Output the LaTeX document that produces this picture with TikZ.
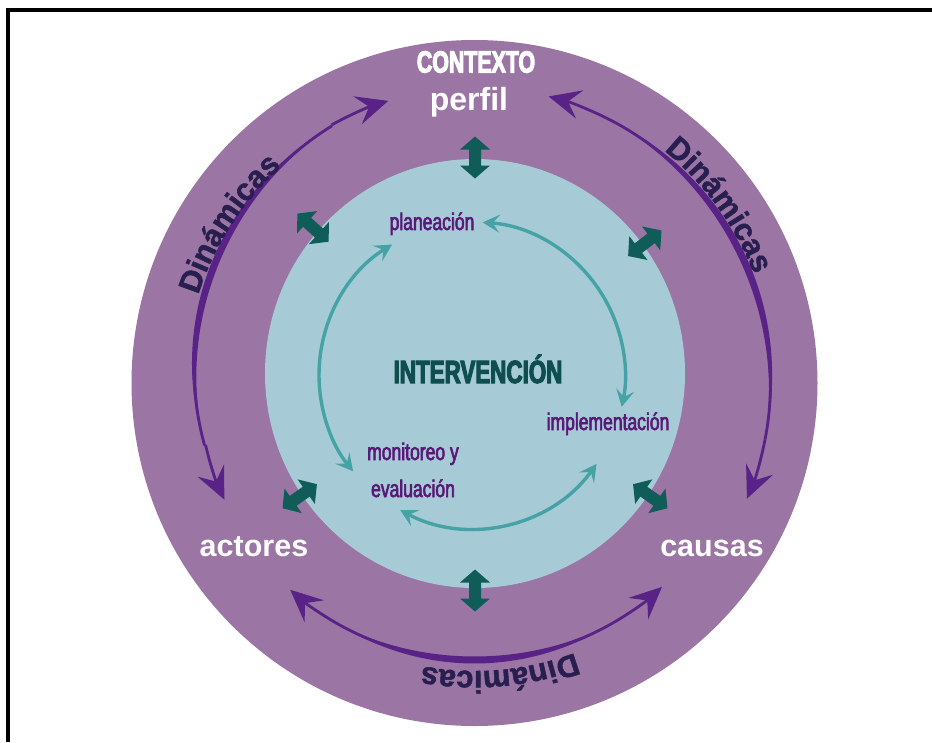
\documentclass[tikz,border=0pt]{standalone}
\usepackage{fontspec}
\setmainfont{Liberation Sans}
\newfontfamily\medf[FakeStretch=0.73,FakeBold=2.5]{Liberation Sans}
\newfontfamily\heavyf[FakeStretch=0.70,FakeBold=3.5]{Liberation Sans Bold}
\newfontfamily\dynf[FakeBold=1.5]{Liberation Sans Bold}
\usetikzlibrary{arrows.meta,decorations.text,calc}
\definecolor{ring}{HTML}{9B75A3}
\definecolor{core}{HTML}{A6CBD6}
\definecolor{dteal}{HTML}{0F5C58}
\definecolor{dyn}{HTML}{582287}
\definecolor{dyntext}{HTML}{281E50}
\definecolor{cyc}{HTML}{45A3A5}
\definecolor{labpurple}{HTML}{5A1978}
\definecolor{intvcol}{HTML}{0F4E4E}
% #1 r at a1, #2 a1, #3 a2, #4 half extra width, #5 r at a2
\newcommand{\rad}[5]{(#1+((#5)-(#1))*(\x-(#2))/((#3)-(#2)))}
\newcommand{\taperarc}[5]{%
  \fill[dyn] plot[domain=#2:#3, samples=70]
    ({474.5+(\rad{#1}{#2}{#3}{#4}{#5}+#4*sin(180*(\x-(#2))/((#3)-(#2))))*cos(\x)},
     {-383+(\rad{#1}{#2}{#3}{#4}{#5}+#4*sin(180*(\x-(#2))/((#3)-(#2))))*sin(\x)})
   -- plot[domain=#3:#2, samples=70]
    ({474.5+(\rad{#1}{#2}{#3}{#4}{#5}-#4*sin(180*(\x-(#2))/((#3)-(#2))))*cos(\x)},
     {-383+(\rad{#1}{#2}{#3}{#4}{#5}-#4*sin(180*(\x-(#2))/((#3)-(#2))))*sin(\x)}) -- cycle;
  \draw[dyn, line width=2.8pt] plot[domain=#2:#3, samples=70]
    ({474.5+\rad{#1}{#2}{#3}{#4}{#5}*cos(\x)},{-383+\rad{#1}{#2}{#3}{#4}{#5}*sin(\x)});}
\newcommand{\dyntip}[3]{\draw[dyn, line width=2.8pt, -dtip] ([shift={(#1:#3)}]C) arc[start angle=#1, end angle=#2, radius=#3];}
\tikzset{
  dblarrow/.pic={\fill[dteal] (-21,0) -- (-8,15) -- (-8,6) -- (8,6) -- (8,15) -- (21,0)
      -- (8,-15) -- (8,-6) -- (-8,-6) -- (-8,-15) -- cycle;},
  dtip/.tip={Stealth[length=32pt,width=29pt,inset=12pt]},
  ctip/.tip={Stealth[length=17pt,width=18pt,inset=7pt]},
  cycline/.style={draw=cyc, line width=3.4pt, ctip-ctip},
  bigwhite/.style={text=white, inner sep=0pt, font=\bfseries\fontsize{30.5}{30}\selectfont},
  lab/.style={text=labpurple, inner sep=0pt, anchor=base, font=\medf\fontsize{24}{24}\selectfont},
  dyntxt/.style={decorate, decoration={text along path, text align=center,
      text color=dyntext, text={|\dynf\fontsize{31}{31}\selectfont|Dinámicas}}}
}
\begin{document}
\begin{tikzpicture}[x=1pt,y=1pt]
\useasboundingbox (0,0) rectangle (932,-742);
\coordinate (C) at (474.5,-383);
\coordinate (I) at (475,-373.5);
\coordinate (K) at (472,-375);
% frame
\draw[line width=4pt] (932,-10) -- (8,-10) -- (8,-742);
% rings
\fill[ring] (C) circle[radius=343];
\fill[core] (I) ellipse[x radius=210, y radius=214.5];
% outer dynamics arrows (tapered)
\taperarc{277}{193}{119}{3.5}{294}
\dyntip{119}{107}{295}
\dyntip{193}{205}{276}
\taperarc{296}{-11}{63.5}{3.5}{296}
\dyntip{63.5}{75.5}{296}
\dyntip{-11}{-23}{296}
\taperarc{277}{240}{300}{3.5}{277}
\dyntip{240}{228.3}{277}
\dyntip{300}{312.6}{277}
% Dinámicas texts
\path[dyntxt] ([shift={(177:290)}]C) arc[start angle=177, end angle=117, radius=290];
\path[dyntxt] ([shift={(66:300)}]C) arc[start angle=66, end angle=6, radius=300];
\path[dyntxt] ([shift={(305:288)}]C) arc[start angle=305, end angle=245, radius=288];
% double arrows between context and intervention
\pic[rotate=90] at ($(I)+(90:216)$) {dblarrow};
\pic[rotate=138] at ($(I)+(138:218)$) {dblarrow};
\pic[rotate=37.5] at ($(I)+(37.5:214)$) {dblarrow};
\pic[rotate=215] at ($(I)+(215:214)$) {dblarrow};
\pic[rotate=-35] at ($(I)+(-35:214)$) {dblarrow};
\pic[rotate=270] at ($(I)+(270:217)$) {dblarrow};
% cycle arrows
\draw[cycline] ([shift={(86:153)}]K) arc[start angle=86, end angle=-12, radius=153];
\draw[cycline] ([shift={(121.5:153)}]K) arc[start angle=121.5, end angle=219, radius=153];
\draw[cycline] ([shift={(242:153)}]K) arc[start angle=242, end angle=324.5, radius=153];
% texts
\node[bigwhite, font=\heavyf\fontsize{30.5}{30}\selectfont] (ctx) at (476,-62) {CONTEXTO};
\node[bigwhite, anchor=base, font=\bfseries\fontsize{32}{32}\selectfont] (perfil) at (469,-110) {perfil};
\node[bigwhite, anchor=base] (act) at (254,-556) {actores};
\node[bigwhite, anchor=base] (caus) at (712,-556) {causas};
\node[lab] (plan) at (432,-230) {planeación};
\node[lab] (impl) at (608,-430) {implementación};
\node[lab] (mon) at (413,-460) {monitoreo y};
\node[lab] (eval) at (413,-497) {evaluación};
\node[text=intvcol, inner sep=0pt, anchor=base, font=\heavyf\fontsize{32}{32}\selectfont] (intv) at (478,-383) {INTERVENCIÓN};
\end{tikzpicture}
\end{document}
